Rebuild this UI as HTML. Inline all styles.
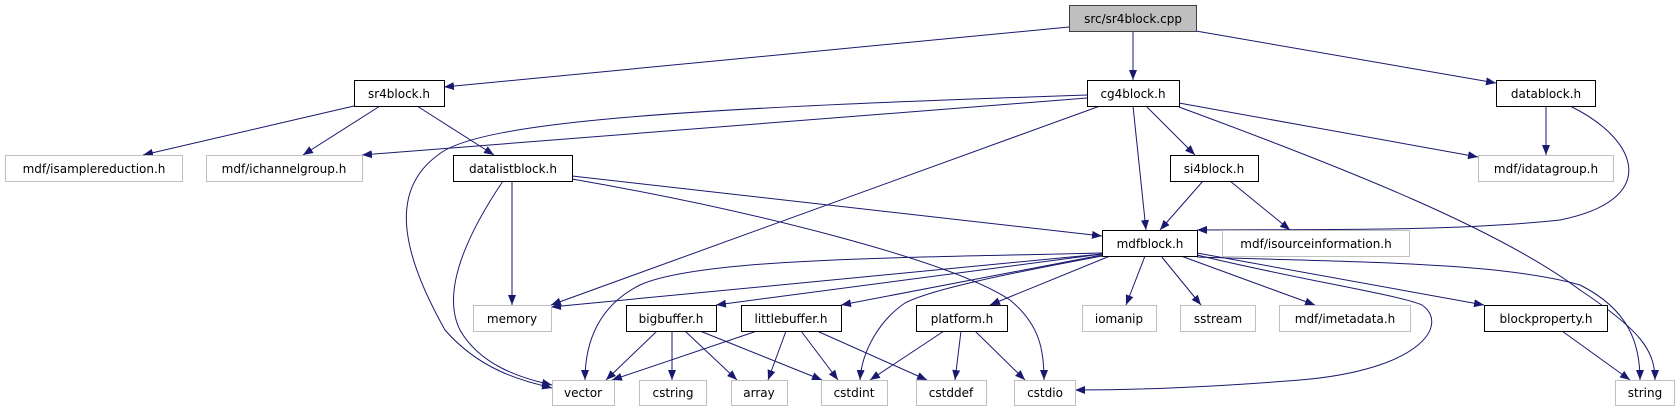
<!DOCTYPE html>
<html><head><meta charset="utf-8"><style>
html,body{margin:0;padding:0;background:#fff;width:1679px;height:411px;overflow:hidden}
text{font-family:"DejaVu Sans","Liberation Sans",sans-serif;font-size:12px;fill:#000}
</style></head><body>
<svg width="1679" height="411" viewBox="0 0 1679 411" xmlns="http://www.w3.org/2000/svg">
<defs><marker id="a" markerWidth="10" markerHeight="8" refX="10" refY="4" orient="auto" markerUnits="userSpaceOnUse"><path d="M0,0 L10,4 L0,8 z" fill="#191970"/></marker></defs>
<g fill="none" stroke="#191970" stroke-width="1" marker-end="url(#a)">
<path d="M1069,27 L444,87"/>
<path d="M1133,32 L1133,80"/>
<path d="M1196,31 L1496,83"/>
<path d="M354,106 L143,155"/>
<path d="M380,106 L303,155"/>
<path d="M417,106 L494,155"/>
<path d="M1087,95 C700,108 480,120 438,155 C390,190 400,250 445,330 C480,370 520,380 552,388"/>
<path d="M1087,98 L362,155"/>
<path d="M1100,106 L551,305"/>
<path d="M1133,106 L1146,230"/>
<path d="M1146,106 L1195,155"/>
<path d="M1179,103 L1478,157"/>
<path d="M1179,107 C1350,170 1500,230 1580,290 C1640,330 1655,350 1655,380"/>
<path d="M1546,106 L1546,155"/>
<path d="M1570,106 C1640,140 1660,200 1560,220 C1450,232 1300,229 1197,230"/>
<path d="M512,181 L512,305"/>
<path d="M503,181 C470,230 440,290 460,330 C480,365 520,378 552,385"/>
<path d="M572,176 L1102,236"/>
<path d="M572,179 C750,210 950,260 1010,300 C1040,325 1044,350 1044,380"/>
<path d="M1203,181 L1160,230"/>
<path d="M1230,181 L1290,230"/>
<path d="M1102,253 C900,258 700,258 640,285 C600,305 585,340 585,380"/>
<path d="M1102,254 L551,307"/>
<path d="M1102,254 L716,305"/>
<path d="M1102,255 L841,305"/>
<path d="M1102,256 C1000,275 930,290 905,303 C880,320 862,350 860,380"/>
<path d="M1110,256 L990,305"/>
<path d="M1145,256 L1126,305"/>
<path d="M1161,256 L1201,305"/>
<path d="M1181,256 L1315,305"/>
<path d="M1197,253 L1484,305"/>
<path d="M1197,255 C1300,280 1400,295 1422,305 C1450,325 1420,370 1300,380 C1200,388 1120,390 1075,390"/>
<path d="M1197,257 C1350,262 1500,262 1580,285 C1630,310 1640,345 1640,380"/>
<path d="M1562,331 L1630,380"/>
<path d="M657,331 L606,380"/>
<path d="M672,331 L672,380"/>
<path d="M685,331 L737,380"/>
<path d="M700,331 L822,380"/>
<path d="M757,331 L612,380"/>
<path d="M786,331 L768,380"/>
<path d="M801,331 L838,380"/>
<path d="M817,331 L927,380"/>
<path d="M944,331 L870,380"/>
<path d="M961,331 L955,380"/>
<path d="M975,331 L1025,380"/>
</g>
<g stroke-width="1">
<rect x="1069.5" y="5.5" width="127" height="26" fill="#bfbfbf" stroke="#404040"/>
<g fill="#fff" stroke="#000">
<rect x="354.5" y="80.5" width="90" height="26"/>
<rect x="1087.5" y="80.5" width="92" height="26"/>
<rect x="1496.5" y="80.5" width="99" height="26"/>
<rect x="453.5" y="155.5" width="119" height="26"/>
<rect x="1170.5" y="155.5" width="88" height="26"/>
<rect x="1102.5" y="230.5" width="95" height="26"/>
<rect x="626.5" y="305.5" width="90" height="26"/>
<rect x="741.5" y="305.5" width="100" height="26"/>
<rect x="916.5" y="305.5" width="91" height="26"/>
<rect x="1484.5" y="305.5" width="123" height="26"/>
</g>
<g fill="#fff" stroke="#bfbfbf">
<rect x="5.5" y="155.5" width="177" height="26"/>
<rect x="206.5" y="155.5" width="156" height="26"/>
<rect x="1478.5" y="155.5" width="135" height="26"/>
<rect x="1222.5" y="230.5" width="187" height="26"/>
<rect x="473.5" y="305.5" width="78" height="26"/>
<rect x="1082.5" y="305.5" width="74" height="26"/>
<rect x="1180.5" y="305.5" width="75" height="26"/>
<rect x="1279.5" y="305.5" width="131" height="26"/>
<rect x="552.5" y="380.5" width="62" height="25"/>
<rect x="639.5" y="380.5" width="67" height="25"/>
<rect x="731.5" y="380.5" width="56" height="25"/>
<rect x="821.5" y="380.5" width="66" height="25"/>
<rect x="916.5" y="380.5" width="70" height="25"/>
<rect x="1014.5" y="380.5" width="61" height="25"/>
<rect x="1615.5" y="380.5" width="59" height="25"/>
</g>
</g>
<g text-anchor="middle">
<text x="1133" y="23">src/sr4block.cpp</text>
<text x="399" y="98">sr4block.h</text>
<text x="1133" y="98">cg4block.h</text>
<text x="1546" y="98">datablock.h</text>
<text x="94" y="173">mdf/isamplereduction.h</text>
<text x="284" y="173">mdf/ichannelgroup.h</text>
<text x="513" y="173">datalistblock.h</text>
<text x="1214" y="173">si4block.h</text>
<text x="1546" y="173">mdf/idatagroup.h</text>
<text x="1150" y="248">mdfblock.h</text>
<text x="1316" y="248">mdf/isourceinformation.h</text>
<text x="512" y="323">memory</text>
<text x="671" y="323">bigbuffer.h</text>
<text x="791" y="323">littlebuffer.h</text>
<text x="962" y="323">platform.h</text>
<text x="1119" y="323">iomanip</text>
<text x="1218" y="323">sstream</text>
<text x="1345" y="323">mdf/imetadata.h</text>
<text x="1546" y="323">blockproperty.h</text>
<text x="583" y="397">vector</text>
<text x="673" y="397">cstring</text>
<text x="759" y="397">array</text>
<text x="854" y="397">cstdint</text>
<text x="951" y="397">cstddef</text>
<text x="1045" y="397">cstdio</text>
<text x="1645" y="397">string</text>
</g>
</svg>
</body></html>
